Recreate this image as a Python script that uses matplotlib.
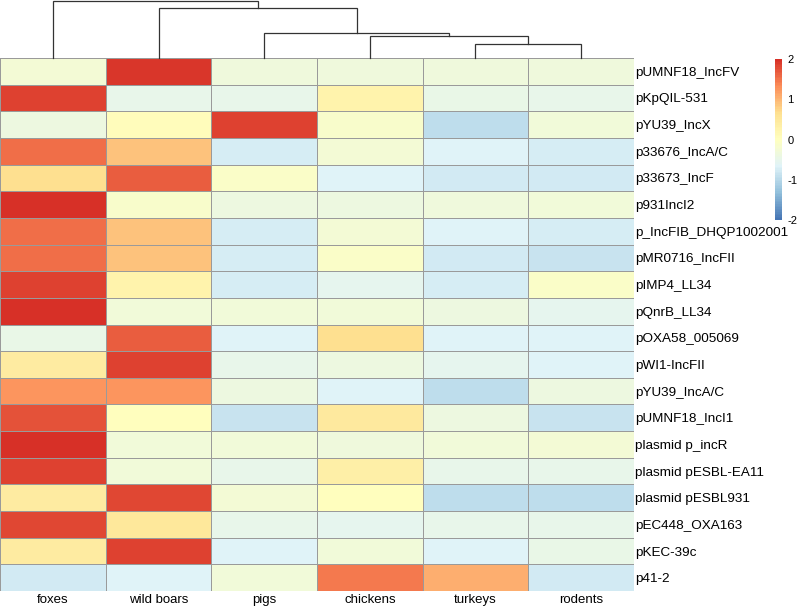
import matplotlib
matplotlib.use('Agg')
import matplotlib.pyplot as plt
import numpy as np
from matplotlib.colors import LinearSegmentedColormap

plt.rcParams['font.family'] = ['Liberation Sans', 'DejaVu Sans']
plt.rcParams['axes.unicode_minus'] = False

hosts = ['foxes', 'wild boars', 'pigs', 'chickens', 'turkeys', 'rodents']
plasmids = ['pUMNF18_IncFV', 'pKpQIL-531', 'pYU39_IncX', 'p33676_IncA/C',
            'p33673_IncF', 'p931IncI2', 'p_IncFIB_DHQP1002001', 'pMR0716_IncFII',
            'pIMP4_LL34', 'pQnrB_LL34', 'pOXA58_005069', 'pWI1-IncFII',
            'pYU39_IncA/C', 'pUMNF18_IncI1', 'plasmid p_incR', 'plasmid pESBL-EA11',
            'plasmid pESBL931', 'pEC448_OXA163', 'pKEC-39c', 'p41-2']

# scaled values, one list per host column
foxes     = [-0.25, 1.85, -0.4, 1.55, 0.65, 2.0, 1.55, 1.55, 1.85, 2.0,
             -0.45, 0.4, 1.25, 1.75, 2.0, 1.85, 0.4, 1.8, 0.4, -0.8]
wildboars = [1.95, -0.5, 0.05, 0.9, 1.65, -0.15, 0.9, 0.9, 0.25, -0.3,
             1.65, 1.85, 1.25, 0.0, -0.3, -0.3, 1.8, 0.5, 1.85, -0.65]
pigs      = [-0.35, -0.5, 1.85, -0.75, -0.1, -0.4, -0.75, -0.75, -0.75, -0.3,
             -0.65, -0.5, -0.4, -0.85, -0.3, -0.5, -0.25, -0.5, -0.65, -0.3]
chickens  = [-0.35, 0.25, -0.15, -0.25, -0.65, -0.4, -0.25, -0.1, -0.55, -0.3,
             0.65, -0.4, -0.65, 0.45, -0.35, 0.35, 0.0, -0.55, -0.3, 1.45]
turkeys   = [-0.35, -0.45, -0.95, -0.65, -0.8, -0.35, -0.65, -0.8, -0.75, -0.4,
             -0.65, -0.55, -0.95, -0.4, -0.3, -0.5, -0.95, -0.5, -0.65, 1.05]
rodents   = [-0.35, -0.5, -0.3, -0.75, -0.8, -0.3, -0.75, -0.85, -0.1, -0.55,
             -0.65, -0.65, -0.4, -0.85, -0.25, -0.5, -0.95, -0.5, -0.45, -0.8]

# column dendrogram merge heights (bottom-up)
merge_heights = [14, 22, 25, 50, 57]

palette = ['#4575B4', '#91BFDB', '#E0F3F8', '#FFFFBF', '#FEE090', '#FC8D59', '#D73027']
cmap = LinearSegmentedColormap.from_list('rdylbu_r', palette, N=100)

data = np.array([foxes, wildboars, pigs, chickens, turkeys, rodents]).T

fig = plt.figure(figsize=(8, 6.07), dpi=100)

# heatmap
ax = fig.add_axes([0.0, 1 - 591/607, 634/800, (591 - 58)/607])
ax.pcolormesh(np.arange(7), np.arange(21), data, cmap=cmap, vmin=-2, vmax=2,
              edgecolors='#9a9a9a', linewidth=0.7)
ax.set_xlim(0, 6)
ax.set_ylim(20, 0)
ax.set_xticks(np.arange(6) + 0.5)
ax.set_xticklabels(hosts, fontsize=9.5)
ax.set_yticks(np.arange(20) + 0.5)
ax.set_yticklabels(plasmids, fontsize=9.7)
ax.yaxis.tick_right()
ax.tick_params(axis='y', length=0, pad=1)
ax.tick_params(axis='x', length=0, pad=2)
for s in ax.spines.values():
    s.set_visible(False)

# dendrogram
dax = fig.add_axes([0.0, 1 - 58/607, 634/800, 57/607])
centers = np.arange(6) + 0.5
h1, h2, h3, h4, h5 = merge_heights
links = []
a = (centers[4] + centers[5]) / 2
links.append((centers[4], 0, centers[5], 0, h1))
b = (centers[3] + a) / 2
links.append((centers[3], 0, a, h1, h2))
c = (centers[2] + b) / 2
links.append((centers[2], 0, b, h2, h3))
d = (centers[1] + c) / 2
links.append((centers[1], 0, c, h3, h4))
links.append((centers[0], 0, d, h4, h5))
for xl, yl, xr, yr, h in links:
    dax.plot([xl, xl, xr, xr], [yl, h, h, yr], color='#333333', lw=0.9,
             clip_on=False, solid_joinstyle='miter')
dax.set_xlim(0, 6)
dax.set_ylim(0, h5)
dax.axis('off')

# colour legend
cax = fig.add_axes([775/800, 1 - 220/607, 7/800, 161/607])
sm = plt.cm.ScalarMappable(cmap=cmap, norm=plt.Normalize(-2, 2))
cb = fig.colorbar(sm, cax=cax, ticks=[-2, -1, 0, 1, 2])
cb.outline.set_visible(False)
cb.ax.tick_params(length=0, labelsize=8, pad=4)

fig.savefig('out.png', dpi=100)
